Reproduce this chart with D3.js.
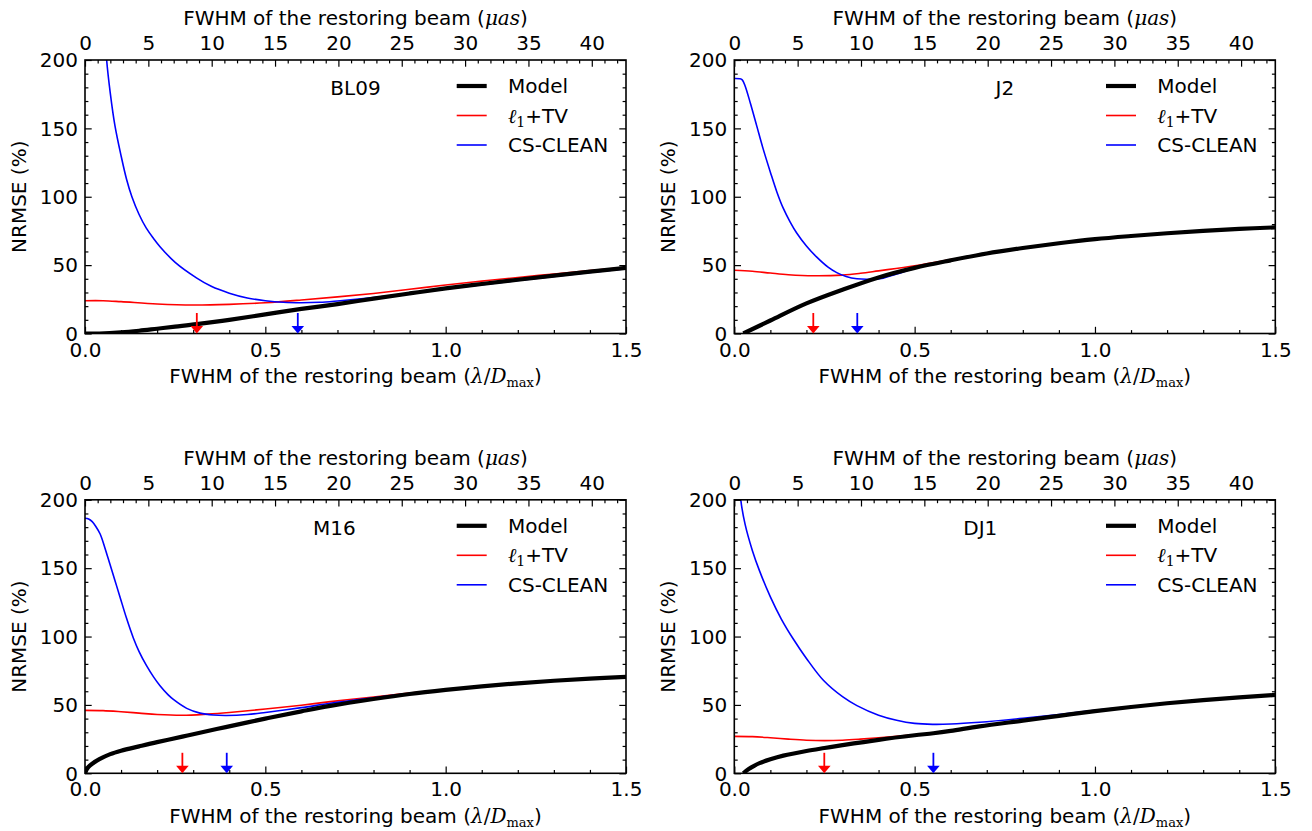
<!DOCTYPE html>
<html><head><meta charset="utf-8">
<script src="https://cdn.jsdelivr.net/npm/d3@7"></script>
<style>
body{margin:0;background:#fff}
svg text{font-family:"DejaVu Sans",sans-serif;fill:#000}
</style>
</head><body>
<svg id="c" width="1312" height="831"></svg>
<script>
// ---------------- data ----------------
const panelNames = ["BL09", "J2", "M16", "DJ1"];
const seriesNames = ["Model", "ℓ1+TV", "CS-CLEAN"];
const xTicksBottom = [0, 0.5, 1.0, 1.5];
const xTicksTop = [0, 5, 10, 15, 20, 25, 30, 35, 40];
const yTicks = [0, 50, 100, 150, 200];
const xMax = 1.5;          // lambda/Dmax
const xMaxMuas = 42.7;     // micro-arcsec at xMax
const yMax = 200;

const bl09Model = [[0,0],[0.04,0],[0.1,0.8],[0.15,2],[0.2,3.5],[0.25,5],[0.31,6.8],[0.4,10],[0.5,14],[0.6,18],[0.7,21.5],[0.8,25.5],[0.9,29.3],[1.0,33],[1.1,36.2],[1.2,39.3],[1.3,42.3],[1.4,45.2],[1.5,48]];
const bl09L1TV = [[0,24],[0.05,24],[0.1,23.3],[0.2,21.6],[0.3,20.8],[0.4,21.3],[0.5,22.5],[0.6,24.5],[0.7,26.8],[0.8,29.3],[0.9,32.3],[1.0,35.5],[1.1,38.3],[1.2,41],[1.3,43.5],[1.4,46],[1.5,48.5]];
const bl09Clean = [[0.052,235],[0.06,200],[0.07,176],[0.083,152],[0.1,130],[0.115,113],[0.13,100],[0.15,87],[0.17,77],[0.19,69.5],[0.208,63.5],[0.25,52],[0.31,40.5],[0.35,34.5],[0.4,29.5],[0.45,26],[0.5,24],[0.55,22.8],[0.6,22.5],[0.65,22.8],[0.7,23.8],[0.8,26.3],[0.9,29.3],[1.0,32.5],[1.1,35.7],[1.2,38.8],[1.3,41.8],[1.4,44.6],[1.5,47.3]];

const j2Model = [[0.025,0],[0.1,9.5],[0.2,22],[0.3,32],[0.4,41],[0.5,48],[0.6,53.5],[0.7,58.5],[0.8,62.5],[0.9,66],[1.0,69],[1.1,71.3],[1.2,73.3],[1.3,75],[1.4,76.5],[1.5,77.6]];
const j2L1TV = [[0,46.2],[0.05,45.5],[0.1,44.2],[0.15,43],[0.22,42.2],[0.3,42.7],[0.35,44],[0.4,45.8],[0.5,49.5],[0.6,54],[0.7,58.7],[0.8,62.7],[0.9,66.1],[1.0,69],[1.2,73.3],[1.5,77.6]];
const j2Clean = [[0,186.5],[0.015,186.3],[0.022,185.5],[0.03,181],[0.045,168],[0.062,152],[0.08,135],[0.1,118],[0.118,103.5],[0.135,92],[0.155,81.5],[0.173,73.5],[0.2,64],[0.228,56],[0.26,48.5],[0.284,44.5],[0.31,41.7],[0.34,40],[0.38,39.7],[0.413,40.5],[0.45,43.5],[0.5,47.5],[0.6,53.3],[0.7,58.4],[0.8,62.5],[1.0,68.9],[1.2,73.2],[1.5,77.5]];

const m16Model = [[0,0],[0.005,3],[0.01,4.8],[0.02,7],[0.04,10.3],[0.07,14],[0.1,16.5],[0.15,19.7],[0.2,22.8],[0.27,26.8],[0.3,28.6],[0.39,33.8],[0.5,40],[0.6,45.3],[0.68,49.3],[0.8,54.3],[0.9,58],[1.0,61],[1.1,63.6],[1.2,65.8],[1.3,67.7],[1.4,69.2],[1.5,70.5]];
const m16L1TV = [[0,46],[0.05,45.8],[0.1,45],[0.15,44],[0.2,43],[0.27,42.4],[0.34,43.3],[0.4,44.5],[0.5,47],[0.6,49.8],[0.68,52.4],[0.8,55.8],[0.9,58.6],[1.0,61.2],[1.1,63.7],[1.2,65.8],[1.3,67.7],[1.4,69.2],[1.5,70.5]];
const m16Clean = [[0,186.5],[0.01,186],[0.02,184],[0.03,180.5],[0.042,175],[0.055,165],[0.069,153],[0.083,141],[0.097,129],[0.115,113.5],[0.134,99],[0.15,89],[0.171,78.5],[0.19,70.5],[0.208,64],[0.23,57.5],[0.245,54],[0.282,47.5],[0.319,44],[0.356,42.6],[0.393,42.3],[0.45,43],[0.5,44.5],[0.6,48],[0.68,51.2],[0.8,55.2],[0.9,58.3],[1.0,61],[1.2,65.7],[1.5,70.5]];

const dj1Model = [[0.025,0],[0.04,3.2],[0.055,5.5],[0.07,7.4],[0.1,10.2],[0.136,12.9],[0.2,16.3],[0.25,18.5],[0.3,20.6],[0.4,24.5],[0.5,27.8],[0.552,29.3],[0.6,31],[0.68,34.3],[0.8,38.5],[0.9,42],[1.0,45.5],[1.1,48.5],[1.2,51.2],[1.3,53.5],[1.4,55.5],[1.5,57.3]];
const dj1L1TV = [[0,27],[0.05,26.8],[0.1,26],[0.15,25],[0.2,24.2],[0.25,23.9],[0.3,24.2],[0.35,25],[0.4,26],[0.45,27],[0.5,28.2],[0.55,29.5],[0.6,31.1],[0.7,34.8],[0.8,38.5],[1.0,45.5],[1.2,51.2],[1.5,57.3]];
const dj1Clean = [[0.01,235],[0.018,200],[0.03,182],[0.05,163],[0.07,148],[0.1,129],[0.13,113],[0.164,98],[0.2,84],[0.247,68],[0.3,56],[0.34,49.5],[0.4,42.5],[0.45,38.8],[0.5,36.5],[0.55,35.8],[0.6,36],[0.68,37.3],[0.8,40.2],[0.9,43],[1.0,46],[1.1,48.9],[1.2,51.4],[1.3,53.7],[1.4,55.6],[1.5,57.4]];

const arrowRedX = [0.31, 0.219, 0.27, 0.2495];
const arrowBlueX = [0.59, 0.341, 0.393, 0.552];
const arrowTopValue = 15;

const modelSets = [bl09Model, j2Model, m16Model, dj1Model];
const l1Sets = [bl09L1TV, j2L1TV, m16L1TV, dj1L1TV];
const cleanSets = [bl09Clean, j2Clean, m16Clean, dj1Clean];

// ---------------- layout ----------------
const W = 541, H = 273.5;
const origins = [[85, 60], [734.3, 60], [85, 499.8], [734.3, 499.8]];
const nameX = [{x: W/2, a: "middle"}, {x: W/2, a: "middle"}, {x: 228, a: "start"}, {x: 229, a: "start"}];
const FS = 20;
const MAJ = 6.7, MIN = 3.4;

const svg = d3.select("#c");
const colors = ["#000000", "#ff0000", "#0000ff"];

function styleAxis(g) {
  g.attr("font-size", FS).attr("font-family", "DejaVu Sans");
  g.selectAll(".domain").remove();
  g.selectAll(".tick line").attr("stroke", "#000").attr("stroke-width", 1.2);
}

panelNames.forEach((name, i) => {
  const [ox, oy] = origins[i];
  const g = svg.append("g").attr("transform", `translate(${ox},${oy})`);
  const x = d3.scaleLinear().domain([0, xMax]).range([0, W]);
  const xt = d3.scaleLinear().domain([0, xMaxMuas]).range([0, W]);
  const y = d3.scaleLinear().domain([0, yMax]).range([H, 0]);

  const clipId = "clip" + i;
  g.append("clipPath").attr("id", clipId).append("rect").attr("width", W).attr("height", H);

  const line = d3.line().x(d => x(d[0])).y(d => y(d[1])).curve(d3.curveCatmullRom.alpha(0.5));
  const plot = g.append("g").attr("clip-path", `url(#${clipId})`);
  plot.append("path").datum(l1Sets[i]).attr("d", line).attr("fill", "none").attr("stroke", colors[1]).attr("stroke-width", 1.6);
  plot.append("path").datum(cleanSets[i]).attr("d", line).attr("fill", "none").attr("stroke", colors[2]).attr("stroke-width", 1.6);
  plot.append("path").datum(modelSets[i]).attr("d", line).attr("fill", "none").attr("stroke", colors[0]).attr("stroke-width", 4.2);

  // minor ticks
  const minorX = d3.range(0, 1.5001, 0.1).filter(v => Math.abs(v*2 - Math.round(v*2)) > 1e-6);
  const minorXt = d3.range(0, 43, 1).filter(v => v % 5 !== 0);
  const minorY = d3.range(0, 201, 10).filter(v => v % 50 !== 0);
  g.append("g").attr("transform", `translate(0,${H})`).call(d3.axisBottom(x).tickValues(minorX).tickSize(-MIN).tickFormat("")).call(styleAxis);
  g.append("g").call(d3.axisTop(xt).tickValues(minorXt).tickSize(-MIN).tickFormat("")).call(styleAxis);
  g.append("g").call(d3.axisLeft(y).tickValues(minorY).tickSize(-MIN).tickFormat("")).call(styleAxis);
  g.append("g").attr("transform", `translate(${W},0)`).call(d3.axisRight(y).tickValues(minorY).tickSize(-MIN).tickFormat("")).call(styleAxis);

  // major ticks
  g.append("g").attr("transform", `translate(0,${H})`)
    .call(d3.axisBottom(x).tickValues(xTicksBottom).tickSize(-MAJ).tickPadding(9).tickFormat(d3.format(".1f"))).call(styleAxis);
  g.append("g")
    .call(d3.axisTop(xt).tickValues(xTicksTop).tickSize(-MAJ).tickPadding(10).tickFormat(d3.format("d"))).call(styleAxis);
  const ly = g.append("g")
    .call(d3.axisLeft(y).tickValues(yTicks).tickSize(-MAJ).tickPadding(7).tickFormat(d3.format("d"))).call(styleAxis);
  ly.selectAll(".tick text").attr("dy", "0.34em");
  g.append("g").attr("transform", `translate(${W},0)`)
    .call(d3.axisRight(y).tickValues(yTicks).tickSize(-MAJ).tickFormat("")).call(styleAxis);

  // frame
  g.append("rect").attr("width", W).attr("height", H).attr("fill", "none").attr("stroke", "#000").attr("stroke-width", 1.6);

  // arrows
  [[arrowRedX[i], colors[1]], [arrowBlueX[i], colors[2]]].forEach(([ax, col]) => {
    const px = x(ax), y0 = y(arrowTopValue), y1 = y(0);
    g.append("line").attr("x1", px).attr("x2", px).attr("y1", y0).attr("y2", y1 - 6).attr("stroke", col).attr("stroke-width", 1.8);
    g.append("path").attr("d", `M${px-6.3},${y1-7.5}L${px+6.3},${y1-7.5}L${px},${y1}Z`).attr("fill", col);
  });

  // axis labels
  const top = g.append("text").attr("x", W/2).attr("y", -35).attr("text-anchor", "middle").attr("font-size", FS);
  top.append("tspan").text("FWHM of the restoring beam (");
  top.append("tspan").attr("font-family", "DejaVu Serif").attr("font-style", "italic").text("μas");
  top.append("tspan").text(")");

  const bot = g.append("text").attr("x", W/2).attr("y", H + 49.5).attr("text-anchor", "middle").attr("font-size", FS);
  bot.append("tspan").text("FWHM of the restoring beam (");
  bot.append("tspan").attr("font-family", "DejaVu Serif").attr("font-style", "italic").text("λ");
  bot.append("tspan").attr("font-family", "DejaVu Serif").text("/");
  bot.append("tspan").attr("font-family", "DejaVu Serif").attr("font-style", "italic").text("D");
  bot.append("tspan").attr("font-family", "DejaVu Serif").attr("font-size", 13).attr("dy", 4).text("max");
  bot.append("tspan").attr("dy", -4).text(")");

  g.append("text").attr("transform", `translate(${-66.5},${H/2}) rotate(-90)`).attr("text-anchor", "middle")
    .attr("dy", "0.36em").attr("font-size", FS).text("NRMSE (%)");

  // panel name
  g.append("text").attr("x", nameX[i].x).attr("y", 28).attr("dy", "0.36em").attr("text-anchor", nameX[i].a).attr("font-size", FS).text(name);

  // legend
  const lg = g.append("g").attr("transform", `translate(${W - 169.3},0)`);
  const legendWidths = [4.2, 1.6, 1.6];
  seriesNames.forEach((s, k) => {
    const ly0 = 26 + k * 29.5;
    lg.append("line").attr("x1", 0).attr("x2", 30).attr("y1", ly0).attr("y2", ly0).attr("stroke", colors[k]).attr("stroke-width", legendWidths[k]);
    const t = lg.append("text").attr("x", 51.3).attr("y", ly0).attr("dy", "0.36em").attr("font-size", FS);
    if (k === 1) {
      t.append("tspan").attr("font-family", "DejaVu Serif").attr("font-style", "italic").text("ℓ");
      t.append("tspan").attr("font-family", "DejaVu Serif").attr("font-size", 14).attr("dy", 4).text("1");
      t.append("tspan").attr("dy", -4).text("+TV");
    } else {
      t.text(s);
    }
  });
});
</script>
</body></html>
